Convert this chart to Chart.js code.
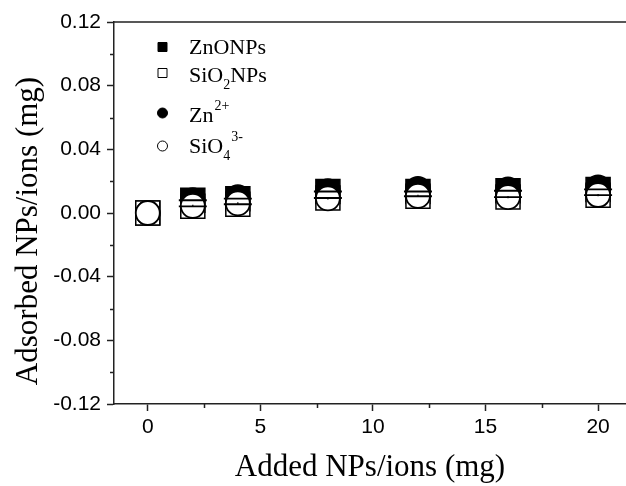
<!DOCTYPE html>
<html>
<head>
<meta charset="utf-8">
<script src="https://cdn.jsdelivr.net/npm/chart.js@4.4.0/dist/chart.umd.min.js"></script>
<style>
  body { margin: 0; background: #fff; }
  #wrap { width: 626px; height: 486px; }
</style>
</head>
<body>
<div id="wrap"><canvas id="chart" width="626" height="486"></canvas></div>
<script>
// x values: added amount (mg)
const addedMg = [0, 2, 4, 8, 12, 16, 20];

// adsorbed amounts (mg)
const znoNps  = [0, 0.0080, 0.0090, 0.0135, 0.0135, 0.0140, 0.0148];
const sio2Nps = [0, 0.0042, 0.0055, 0.0094, 0.0105, 0.0100, 0.0112];
const znIon   = [0, 0.0082, 0.0100, 0.0138, 0.0152, 0.0150, 0.0162];
const sio4Ion = [0, 0.0045, 0.0060, 0.0092, 0.0107, 0.0100, 0.0113];

// error bars (tiny, mostly hidden in the markers)
const znoErr  = [0, 0.0002, 0.0002, 0.0002, 0.0002, 0.0002, 0.0002];
const sio2Err = [0, 0.0002, 0.0002, 0.0002, 0.0002, 0.0002, 0.0002];
const sio4Err = [0, 0.0007, 0.0007, 0.0007, 0.0007, 0.0007, 0.0007];

const seriesNames = ["ZnONPs", "SiO₂NPs", "Zn²⁺", "SiO₄³⁻"];
// legend text pieces: [text, kind] where kind is n / sub / sup
const legendText = [
  [["ZnONPs", "n"]],
  [["SiO", "n"], ["2", "sub"], ["NPs", "n"]],
  [["Zn", "n"], ["2+", "sup"]],
  [["SiO", "n"], ["4", "sub"], ["3-", "sup"]],
];

const xTitle = "Added NPs/ions (mg)";
const yTitle = "Adsorbed NPs/ions (mg)";

const xTicks = [0, 5, 10, 15, 20];
const yTicks = [-0.12, -0.08, -0.04, 0, 0.04, 0.08, 0.12];
const xMinor = [2.5, 7.5, 12.5, 17.5];
const yMinor = [-0.1, -0.06, -0.02, 0.02, 0.06, 0.1];

const SERIF = "'Liberation Serif', 'Times New Roman', serif";
const SANS = "'Liberation Sans', Arial, sans-serif";
const INK = "#000";

const pts = (ys) => addedMg.map((x, i) => ({ x: x, y: ys[i] }));

// the plot in the original runs off the right edge of the picture:
// stretch the plot area up to the canvas edge after layout
const stretchRight = {
  id: "stretchRight",
  afterLayout(chart) {
    const a = chart.chartArea;
    const xs = chart.scales.x;
    a.right = chart.width;
    a.width = a.right - a.left;
    xs.right = chart.width;
    xs.width = xs.right - xs.left;
    xs.configure();
  },
};

// draws error bars, minor ticks, the top frame line, y title and the legend
const extras = {
  id: "extras",
  afterDatasetsDraw(chart) {
    const ctx = chart.ctx;
    const ys = chart.scales.y;
    ctx.save();
    ctx.strokeStyle = INK;
    ctx.lineWidth = 1.2;
    chart.data.datasets.forEach((ds, i) => {
      if (!ds.err) return;
      const meta = chart.getDatasetMeta(i);
      meta.data.forEach((p, j) => {
        const e = ds.err[j];
        if (!e) return;
        const v = ds.data[j].y;
        const top = ys.getPixelForValue(v + e);
        const bot = ys.getPixelForValue(v - e);
        const w = ds.capWidth / 2;
        ctx.beginPath();
        ctx.moveTo(p.x, top);
        ctx.lineTo(p.x, bot);
        if (w) {
          ctx.moveTo(p.x - w, top);
          ctx.lineTo(p.x + w, top);
          ctx.moveTo(p.x - w, bot);
          ctx.lineTo(p.x + w, bot);
        }
        ctx.stroke();
      });
    });
    ctx.restore();
  },
  afterDraw(chart) {
    const ctx = chart.ctx;
    const a = chart.chartArea;
    const xs = chart.scales.x;
    const ys = chart.scales.y;
    ctx.save();
    ctx.strokeStyle = "#222";
    ctx.lineWidth = 1.5;
    ctx.beginPath();
    ctx.moveTo(a.left - 1, a.top);
    ctx.lineTo(a.right, a.top);
    for (const v of xMinor) {
      const px = Math.round(xs.getPixelForValue(v)) + 0.5;
      ctx.moveTo(px, a.bottom);
      ctx.lineTo(px, a.bottom + 4);
    }
    for (const v of yMinor) {
      const py = Math.round(ys.getPixelForValue(v)) + 0.5;
      ctx.moveTo(a.left - 4, py);
      ctx.lineTo(a.left, py);
    }
    ctx.stroke();

    // y axis title, sits a bit below the plot centre as in the original
    ctx.save();
    ctx.translate(29, 231);
    ctx.rotate(-Math.PI / 2);
    ctx.fillStyle = INK;
    ctx.font = "31px " + SERIF;
    ctx.textAlign = "center";
    ctx.textBaseline = "middle";
    ctx.fillText(yTitle, 0, 0);
    ctx.restore();

    // legend
    const rows = [
      { my: 47, ty: 54 },
      { my: 73, ty: 82 },
      { my: 113, ty: 122 },
      { my: 146, ty: 153 },
    ];
    chart.data.datasets.forEach((ds, i) => {
      const r = rows[i];
      ctx.lineWidth = 1;
      ctx.strokeStyle = INK;
      ctx.fillStyle = ds.backgroundColor;
      ctx.beginPath();
      if (ds.pointStyle === "rect") ctx.rect(158, r.my - 4.5, 9, 9);
      else ctx.arc(162.5, r.my, 5, 0, Math.PI * 2);
      ctx.fill();
      ctx.stroke();

      let x = 189;
      ctx.fillStyle = INK;
      ctx.textAlign = "left";
      ctx.textBaseline = "alphabetic";
      for (const [txt, kind] of legendText[i]) {
        if (kind === "n") {
          ctx.font = "22px " + SERIF;
          ctx.fillText(txt, x, r.ty);
        } else if (kind === "sub") {
          ctx.font = "14px " + SERIF;
          ctx.fillText(txt, x, r.ty + 7);
        } else {
          ctx.font = "14px " + SERIF;
          ctx.fillText(txt, x + 1, r.ty - 12);
        }
        x += ctx.measureText(txt).width;
      }
    });
    ctx.restore();
  },
};

new Chart(document.getElementById("chart"), {
  type: "scatter",
  data: {
    datasets: [
      {
        label: seriesNames[0],
        data: pts(znoNps),
        err: znoErr,
        capWidth: 28,
        pointStyle: "rect",
        pointRadius: 17,
        backgroundColor: INK,
        borderColor: INK,
        borderWidth: 1.5,
        order: 4,
      },
      {
        label: seriesNames[1],
        data: pts(sio2Nps),
        err: sio2Err,
        capWidth: 28,
        pointStyle: "rect",
        pointRadius: 17,
        backgroundColor: "#fff",
        borderColor: INK,
        borderWidth: 1.5,
        order: 3,
      },
      {
        label: seriesNames[2],
        data: pts(znIon),
        pointStyle: "circle",
        pointRadius: 12,
        backgroundColor: INK,
        borderColor: INK,
        borderWidth: 1.5,
        order: 2,
      },
      {
        label: seriesNames[3],
        data: pts(sio4Ion),
        err: sio4Err,
        capWidth: 0,
        pointStyle: "circle",
        pointRadius: 12,
        backgroundColor: "#fff",
        borderColor: INK,
        borderWidth: 1.8,
        order: 1,
      },
    ],
  },
  options: {
    responsive: false,
    animation: false,
    events: [],
    clip: false,
    layout: { padding: { top: 22, right: 0, left: 0, bottom: 0 } },
    plugins: { legend: { display: false }, tooltip: { enabled: false } },
    scales: {
      x: {
        type: "linear",
        min: -1.5,
        max: 21.24,
        afterBuildTicks: (s) => { s.ticks = xTicks.map((v) => ({ value: v })); },
        afterFit: (s) => { s.height = 82; },
        ticks: { color: INK, font: { family: SANS, size: 21 }, padding: 4 },
        grid: { drawOnChartArea: false, drawTicks: true, tickLength: 7, tickColor: "#222", tickWidth: 1.5 },
        border: { display: true, color: "#222", width: 1.5 },
        title: {
          display: true,
          text: xTitle,
          color: INK,
          font: { family: SERIF, size: 31 },
          padding: { top: 0, bottom: 0 },
        },
      },
      y: {
        min: -0.12,
        max: 0.12,
        afterBuildTicks: (s) => { s.ticks = yTicks.map((v) => ({ value: v })); },
        afterFit: (s) => { s.width = 114; },
        ticks: {
          color: INK,
          font: { family: SANS, size: 21 },
          padding: 6,
          callback: (v) => v.toFixed(2),
        },
        grid: { drawOnChartArea: false, drawTicks: true, tickLength: 7, tickColor: "#222", tickWidth: 1.5 },
        border: { display: true, color: "#222", width: 1.5 },
      },
    },
  },
  plugins: [stretchRight, extras],
});
</script>
</body>
</html>
